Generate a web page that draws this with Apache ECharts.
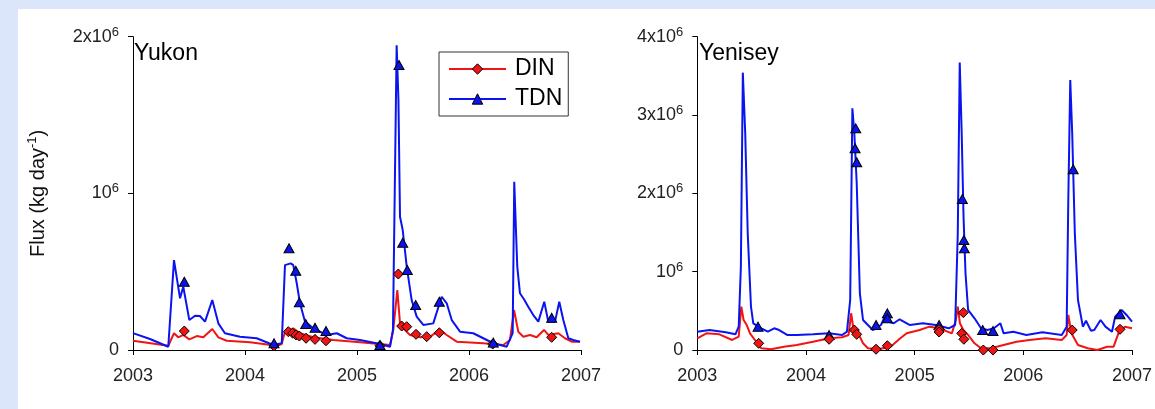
<!DOCTYPE html>
<html>
<head>
<meta charset="utf-8">
<script src="https://cdn.jsdelivr.net/npm/echarts@6/dist/echarts.min.js"></script>
<style>
    html, body{
        margin: 0;
        padding: 0;
        background: #dce6fa;
    }
    #flux-chart{
        width: 1155px;
        height: 409px;
    }
</style>
</head>
<body>
<div id="flux-chart"></div>
<script>
// years as decimal years, flux in 10^6 kg/day

// Yukon
var yukonTdnLineX = [2003.000,2003.152,2003.315,2003.366,2003.420,2003.449,2003.503,2003.554,2003.598,2003.643,2003.708,2003.762,2003.821,2003.955,2004.104,2004.253,2004.328,2004.357,2004.408,2004.431,2004.462,2004.491,2004.536,2004.610,2004.729,2004.819,2004.908,2005.027,2005.205,2005.295,2005.321,2005.354,2005.370,2005.384,2005.408,2005.444,2005.488,2005.533,2005.592,2005.681,2005.756,2005.801,2005.846,2005.920,2006.038,2006.128,2006.217,2006.337,2006.390,2006.404,2006.431,2006.455,2006.491,2006.529,2006.574,2006.619,2006.672,2006.708,2006.768,2006.806,2006.842,2006.887,2006.931,2006.991];
var yukonTdnLineY = [0.108,0.070,0.021,0.574,0.330,0.404,0.191,0.219,0.217,0.181,0.319,0.170,0.107,0.085,0.075,0.032,0.043,0.542,0.553,0.542,0.426,0.298,0.181,0.138,0.096,0.107,0.075,0.064,0.038,0.021,0.128,1.946,1.595,0.851,0.766,0.532,0.319,0.213,0.160,0.170,0.340,0.298,0.191,0.117,0.107,0.075,0.043,0.021,0.108,1.074,0.532,0.362,0.324,0.276,0.223,0.181,0.308,0.181,0.181,0.308,0.191,0.075,0.064,0.053];
var yukonDinLineX = [2003.000,2003.315,2003.366,2003.404,2003.449,2003.503,2003.569,2003.628,2003.708,2003.762,2003.837,2004.045,2004.283,2004.328,2004.357,2004.431,2004.491,2004.610,2004.788,2005.027,2005.295,2005.324,2005.360,2005.384,2005.413,2005.473,2005.563,2005.652,2005.741,2005.801,2005.890,2006.128,2006.306,2006.366,2006.402,2006.440,2006.485,2006.545,2006.604,2006.670,2006.708,2006.797,2006.857,2006.917,2006.991];
var yukonDinLineY = [0.059,0.027,0.107,0.081,0.096,0.068,0.089,0.081,0.134,0.081,0.059,0.049,0.027,0.038,0.117,0.138,0.107,0.081,0.064,0.049,0.032,0.128,0.383,0.170,0.138,0.096,0.081,0.085,0.128,0.096,0.053,0.043,0.032,0.064,0.255,0.117,0.085,0.096,0.081,0.128,0.096,0.107,0.075,0.053,0.053];
var yukonTdnPtX = [2003.458,2004.259,2004.393,2004.453,2004.485,2004.542,2004.625,2004.723,2005.205,2005.375,2005.408,2005.449,2005.524,2005.735,2006.217,2006.738];
var yukonTdnPtY = [0.436,0.043,0.649,0.506,0.304,0.166,0.142,0.121,0.032,1.819,0.685,0.511,0.287,0.308,0.047,0.206];
var yukonDinPtX = [2003.458,2004.259,2004.387,2004.426,2004.455,2004.485,2004.545,2004.625,2004.723,2005.205,2005.369,2005.399,2005.444,2005.527,2005.622,2005.735,2006.212,2006.738];
var yukonDinPtY = [0.121,0.026,0.117,0.107,0.096,0.089,0.075,0.068,0.059,0.027,0.485,0.153,0.149,0.100,0.085,0.110,0.038,0.081];

// Yenisey
var yeniseyTdnLineX = [2003.000,2003.113,2003.262,2003.351,2003.381,2003.401,2003.419,2003.441,2003.464,2003.494,2003.515,2003.589,2003.649,2003.708,2003.753,2003.827,2003.916,2004.065,2004.213,2004.333,2004.377,2004.407,2004.427,2004.445,2004.467,2004.496,2004.525,2004.570,2004.615,2004.690,2004.734,2004.764,2004.808,2004.862,2004.957,2005.076,2005.194,2005.314,2005.373,2005.397,2005.415,2005.433,2005.450,2005.468,2005.492,2005.551,2005.611,2005.671,2005.730,2005.789,2005.819,2005.908,2006.028,2006.176,2006.354,2006.399,2006.414,2006.432,2006.450,2006.474,2006.503,2006.548,2006.577,2006.622,2006.653,2006.711,2006.756,2006.816,2006.845,2006.905,2006.950,2007.000];
var yeniseyTdnLineY = [0.234,0.255,0.226,0.200,0.298,1.064,3.541,2.768,1.490,0.553,0.341,0.277,0.234,0.277,0.255,0.192,0.192,0.200,0.213,0.192,0.234,0.639,3.087,2.768,2.129,0.724,0.383,0.319,0.255,0.319,0.447,0.361,0.341,0.392,0.319,0.341,0.319,0.277,0.319,1.490,3.669,2.768,1.702,0.980,0.511,0.405,0.277,0.255,0.277,0.341,0.213,0.234,0.192,0.226,0.192,0.298,1.916,3.448,2.768,1.490,0.639,0.298,0.374,0.247,0.255,0.383,0.298,0.234,0.425,0.511,0.447,0.361];
var yeniseyDinLineX = [2003.000,2003.084,2003.203,2003.321,2003.381,2003.405,2003.426,2003.455,2003.485,2003.530,2003.589,2003.678,2003.797,2003.916,2004.065,2004.213,2004.333,2004.392,2004.416,2004.436,2004.481,2004.525,2004.570,2004.659,2004.779,2004.868,2004.927,2005.046,2005.136,2005.225,2005.343,2005.379,2005.397,2005.417,2005.448,2005.492,2005.551,2005.611,2005.700,2005.819,2005.938,2006.057,2006.206,2006.354,2006.399,2006.414,2006.443,2006.503,2006.592,2006.681,2006.771,2006.831,2006.875,2006.934,2007.000];
var yeniseyDinLineY = [0.149,0.213,0.200,0.128,0.170,0.553,0.383,0.319,0.213,0.128,0.022,0.009,0.042,0.064,0.106,0.149,0.162,0.192,0.469,0.277,0.213,0.086,0.022,0.009,0.042,0.149,0.213,0.255,0.298,0.277,0.213,0.383,0.553,0.341,0.255,0.192,0.086,0.022,0.022,0.064,0.106,0.128,0.149,0.128,0.192,0.447,0.213,0.064,0.022,0.000,0.042,0.042,0.213,0.298,0.277];
var yeniseyTdnPtX = [2003.559,2004.213,2004.458,2004.452,2004.467,2004.645,2004.749,2004.749,2005.225,2005.439,2005.453,2005.457,2005.626,2005.721,2006.459,2006.890];
var yeniseyTdnPtY = [0.298,0.190,2.830,2.576,2.397,0.320,0.468,0.405,0.320,1.928,1.405,1.298,0.255,0.243,2.308,0.456];
var yeniseyDinPtX = [2003.565,2004.213,2004.445,2004.467,2004.645,2004.749,2005.225,2005.225,2005.448,2005.433,2005.453,2005.632,2005.721,2006.450,2006.890];
var yeniseyDinPtY = [0.085,0.137,0.255,0.200,0.010,0.055,0.262,0.230,0.477,0.213,0.137,0.000,0.000,0.255,0.264];

var yearTicks = [2003, 2004, 2005, 2006, 2007];

var RED = '#f01414';
var BLUE = '#0a14f0';
var FONT = 'Arial, "Liberation Sans", sans-serif';

function pairs(xs, ys){
    var out = [];
    for (var i = 0; i < xs.length; i++) out.push([xs[i], ys[i]]);
    return out;
}

function fluxLabel(v){
    if (v === 0) return '0';
    if (v === 1) return '10{sup|6}';
    return v + 'x10{sup|6}';
}

function xAxisFor(grid){
    return {
        type: 'value',
        gridIndex: grid,
        min: yearTicks[0],
        max: yearTicks[yearTicks.length - 1],
        interval: 1,
        axisLine: {lineStyle: {color: '#000', width: 1}},
        axisTick: {length: 5, lineStyle: {color: '#000'}},
        axisLabel: {
            color: '#222', fontSize: 18, fontFamily: FONT, margin: 17,
            formatter: function(v){ return String(v); }
        },
        splitLine: {show: false}
    };
}

function yAxisFor(grid, max){
    return {
        type: 'value',
        gridIndex: grid,
        min: 0,
        max: max,
        interval: 1,
        axisLine: {show: true, lineStyle: {color: '#000', width: 1}},
        axisTick: {show: true, length: 5, lineStyle: {color: '#000'}},
        axisLabel: {
            color: '#222', fontSize: 18, fontFamily: FONT, margin: 14, lineHeight: 22,
            formatter: fluxLabel,
            rich: {sup: {fontSize: 13, fontFamily: FONT, color: '#222', verticalAlign: 'top', lineHeight: 14}}
        },
        splitLine: {show: false}
    };
}

function lineSeries(name, grid, data, color, symbol){
    return {
        name: name,
        type: 'line',
        xAxisIndex: grid,
        yAxisIndex: grid,
        data: data,
        showSymbol: false,
        symbol: symbol,
        symbolSize: 10,
        lineStyle: {color: color, width: 2},
        itemStyle: {color: color, borderColor: '#000', borderWidth: 1},
        emphasis: {disabled: true},
        z: 2
    };
}

function pointSeries(name, grid, data, color, symbol, size, z){
    return {
        name: name,
        type: 'scatter',
        xAxisIndex: grid,
        yAxisIndex: grid,
        data: data,
        symbol: symbol,
        symbolSize: size,
        itemStyle: {color: color, borderColor: '#000', borderWidth: 1, opacity: 1},
        emphasis: {disabled: true},
        z: z
    };
}

var option = {
    backgroundColor: '#dce6fa',
    animation: false,
    graphic: [
        {type: 'rect', left: 18, top: 9, shape: {width: 1137, height: 400}, style: {fill: '#fff'}, z: -10}
    ],
    title: [
        {text: 'Yukon', left: 134, top: 42, padding: 0, textStyle: {fontSize: 23, fontWeight: 'normal', color: '#000', fontFamily: FONT}},
        {text: 'Yenisey', left: 699, top: 42, padding: 0, textStyle: {fontSize: 23, fontWeight: 'normal', color: '#000', fontFamily: FONT}}
    ],
    legend: {
        data: ['DIN', 'TDN'],
        orient: 'vertical',
        left: 439,
        top: 52,
        padding: [5, 6, 5, 9],
        itemWidth: 57,
        itemHeight: 13,
        itemGap: 6,
        backgroundColor: '#fff',
        borderColor: '#333',
        borderWidth: 1,
        selectedMode: false,
        itemStyle: {borderColor: '#000', borderWidth: 1},
        textStyle: {fontSize: 23, lineHeight: 24, color: '#000', fontFamily: FONT, padding: [0, 0, 0, 4]}
    },
    grid: [
        {left: 133, top: 36.7, width: 448, height: 313.3},
        {left: 697.3, top: 36.7, width: 448.4, height: 313.3}
    ],
    xAxis: [xAxisFor(0), xAxisFor(1)],
    yAxis: [
        Object.assign(yAxisFor(0, 2), {
            name: 'Flux (kg day{sup|-1})',
            nameLocation: 'middle',
            nameGap: 83,
            nameTextStyle: {
                fontSize: 20, color: '#111', fontFamily: FONT, lineHeight: 24,
                rich: {sup: {fontSize: 13, fontFamily: FONT, color: '#111', verticalAlign: 'top', lineHeight: 14}}
            }
        }),
        yAxisFor(1, 4)
    ],
    series: [
        lineSeries('DIN', 0, pairs(yukonDinLineX, yukonDinLineY), RED, 'diamond'),
        lineSeries('TDN', 0, pairs(yukonTdnLineX, yukonTdnLineY), BLUE, 'triangle'),
        pointSeries('DIN', 0, pairs(yukonDinPtX, yukonDinPtY), RED, 'diamond', 10, 3),
        pointSeries('TDN', 0, pairs(yukonTdnPtX, yukonTdnPtY), BLUE, 'triangle', [10, 9], 4),
        lineSeries('DIN', 1, pairs(yeniseyDinLineX, yeniseyDinLineY), RED, 'diamond'),
        lineSeries('TDN', 1, pairs(yeniseyTdnLineX, yeniseyTdnLineY), BLUE, 'triangle'),
        pointSeries('TDN', 1, pairs(yeniseyTdnPtX, yeniseyTdnPtY), BLUE, 'triangle', [10, 9], 3),
        pointSeries('DIN', 1, pairs(yeniseyDinPtX, yeniseyDinPtY), RED, 'diamond', 10, 4)
    ]
};

var myChart = echarts.init(document.getElementById('flux-chart'));
myChart.setOption(option);
</script>
</body>
</html>
